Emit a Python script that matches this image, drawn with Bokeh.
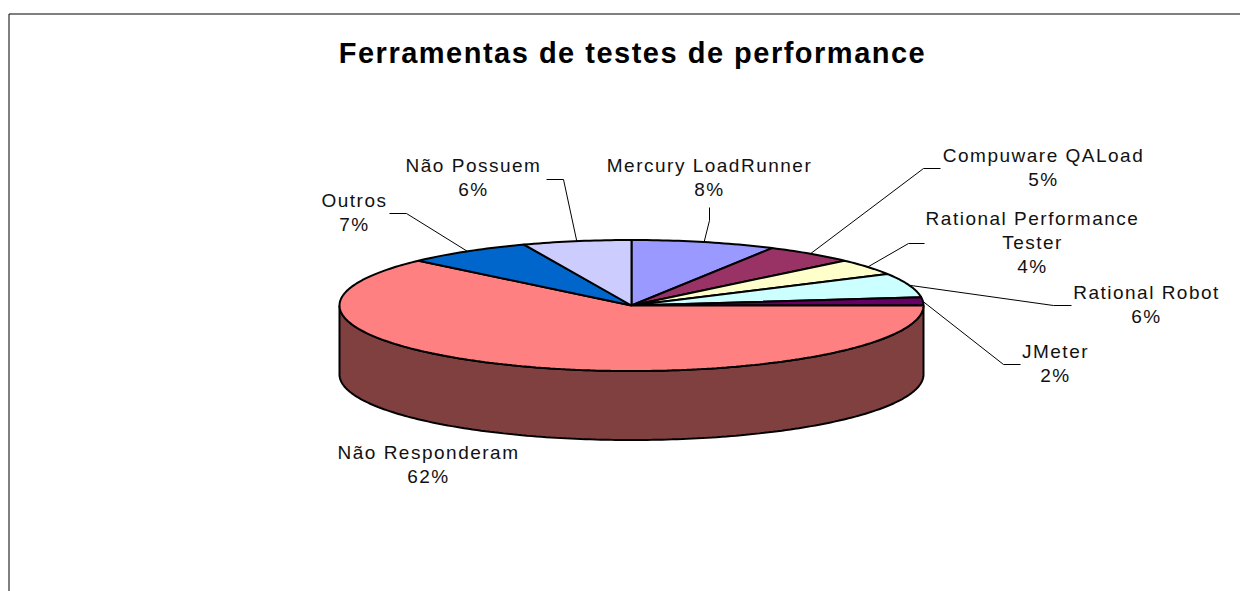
import numpy as np
from bokeh.plotting import figure
from bokeh.models import Range1d, ColumnDataSource
from bokeh.core.properties import value
from bokeh.embed import file_html
from bokeh.resources import INLINE

title_text = "Ferramentas de testes de performance"
slice_names = [["Mercury LoadRunner"], ["Compuware QALoad"], ["Rational Performance", "Tester"],
               ["Rational Robot"], ["JMeter"], ["Não Responderam"], ["Outros"], ["Não Possuem"]]
slice_values = [8, 5, 4, 6, 2, 62, 7, 6]
slice_colors = ["#9999FF", "#993366", "#FFFFCC", "#CCFFFF", "#660066", "#FF8080", "#0066CC", "#CCCCFF"]

# layout (page pixels)
W, H = 1240, 591
CX, CY, RX, RY, DEPTH = 631, 305, 292, 65.5, 69
LABEL_X = [709, 1043, 1032, 1146, 1055, 428, 354, 473]
LABEL_Y = [165, 155, 218, 292, 351, 452, 200, 165]
LINE_STEP = 24
SPACING = 1.5
ELBOWS = [[(709, 220), (709, 207)], [(923, 168), (940, 168)], [(908, 243), (924, 243)],
          [(1053, 305), (1071, 305)], [(1003, 364), (1020, 364)], None,
          [(406, 213), (389, 213)], [(563, 179), (546, 179)]]

p = figure(width=W, height=H, output_backend="svg", toolbar_location=None,
           x_range=Range1d(0, W), y_range=Range1d(H, 0),
           min_border=0, outline_line_color=None, background_fill_color="white",
           border_fill_color="white")
p.axis.visible = False
p.grid.visible = False
p.styles = {"letter-spacing": f"{SPACING}px"}


def ell(theta_deg):
    t = np.radians(theta_deg)
    return CX + RX * np.sin(t), CY - RY * np.cos(t)


vals = np.array(slice_values, dtype=float)
edges = np.concatenate([[0], np.cumsum(vals)]) / vals.sum() * 360

# chart frame
p.line([W, 8.5, 8.5], [13.5, 13.5, H], line_color="black", line_width=1)

# side wall: visible front half (90..270 degrees)
ax, ay = ell(np.linspace(90, 270, 181))
p.patch(np.r_[ax, ax[::-1]], np.r_[ay, ay[::-1] + DEPTH], fill_color="#804040",
        line_color="black", line_width=2)

# top slices
xs, ys = [], []
for a, b in zip(edges[:-1], edges[1:]):
    n = max(int(b - a), 2) + 1
    ex, ey = ell(np.linspace(a, b, n))
    xs.append(np.r_[CX, ex, CX])
    ys.append(np.r_[CY, ey, CY])
p.patches(xs, ys, fill_color=slice_colors, line_color="black", line_width=2)

# leader lines
for a, b, elbow in zip(edges[:-1], edges[1:], ELBOWS):
    if elbow is None:
        continue
    sx, sy = ell((a + b) / 2)
    p.line([float(sx)] + [q[0] for q in elbow], [float(sy)] + [q[1] for q in elbow],
           line_color="black", line_width=1)

# labels (x corrected for the extra letter spacing, which Bokeh's centring ignores)
rows = dict(x=[], y=[], t=[])
for names, v, lx, ly in zip(slice_names, slice_values, LABEL_X, LABEL_Y):
    for i, t in enumerate(names + [f"{v}%"]):
        rows["x"].append(lx - len(t) * SPACING / 2)
        rows["y"].append(ly + i * LINE_STEP)
        rows["t"].append(t)
p.text("x", "y", text="t", source=ColumnDataSource(rows), text_align="center",
       text_baseline="middle", text_font=value("Liberation Sans"),
       text_font_size="19px", text_color="#111111")
p.text([632 - len(title_text) * SPACING / 2], [52], text=[title_text], text_align="center",
       text_baseline="middle", text_font=value("Liberation Sans"), text_font_style="bold",
       text_font_size="29px", text_color="black")

open("out.html", "w").write(file_html(p, INLINE))
